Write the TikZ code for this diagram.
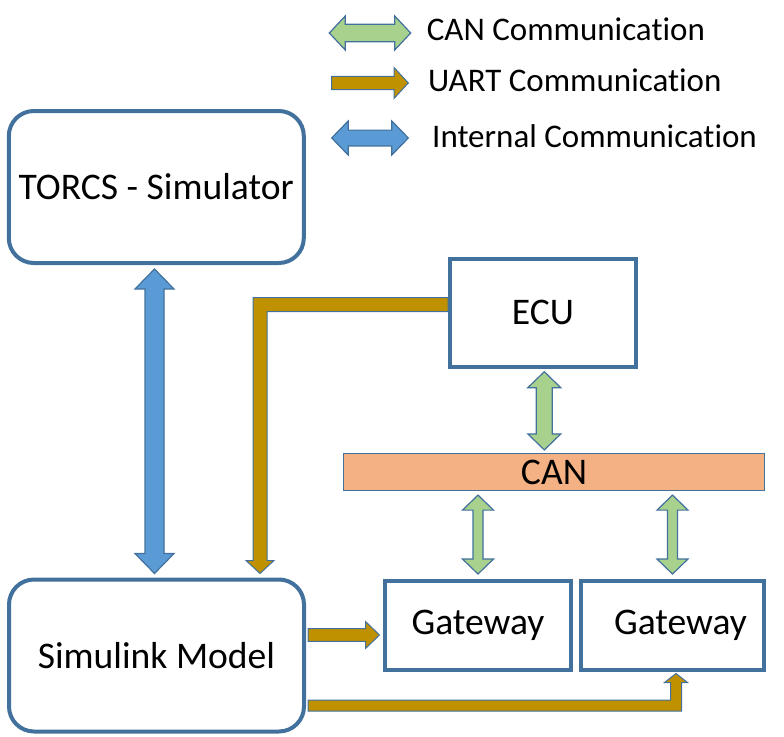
\documentclass[tikz,border=0pt]{standalone}
\usepackage{fontspec}
\setmainfont{Carlito}[Ligatures=NoCommon]
\usepackage{tikz}
\usetikzlibrary{calc}
\definecolor{boxline}{HTML}{41719C}
\definecolor{intblue}{HTML}{5B9BD5}
\definecolor{cangreen}{HTML}{A9D18E}
\definecolor{uartgold}{HTML}{BF9000}
\definecolor{canorange}{HTML}{F4B183}
% vertical double block arrow: style, top tip, bottom tip, shaft half, head half, head length
\newcommand{\dblarrowv}[6]{%
  \draw[#1] (#2) -- ($(#2)+(#5,#6)$) -- ($(#2)+(#4,#6)$) -- ($(#3)+(#4,-#6)$) -- ($(#3)+(#5,-#6)$) -- (#3)
    -- ($(#3)+(-#5,-#6)$) -- ($(#3)+(-#4,-#6)$) -- ($(#2)+(-#4,#6)$) -- ($(#2)+(-#5,#6)$) -- cycle;}
% horizontal double block arrow: style, left tip, right tip, shaft half, head half, head length
\newcommand{\dblarrowh}[6]{%
  \draw[#1] (#2) -- ($(#2)+(#6,-#5)$) -- ($(#2)+(#6,-#4)$) -- ($(#3)+(-#6,-#4)$) -- ($(#3)+(-#6,-#5)$) -- (#3)
    -- ($(#3)+(-#6,#5)$) -- ($(#3)+(-#6,#4)$) -- ($(#2)+(#6,#4)$) -- ($(#2)+(#6,#5)$) -- cycle;}

\begin{document}
\begin{tikzpicture}[x=1pt,y=-1pt,
    block/.style={draw=boxline,line width=4pt,fill=white,inner sep=0pt,font=\fontsize{37.6}{44}\selectfont},
    roundblock/.style={block,rounded corners=25pt,minimum width=295pt,minimum height=152pt},
    legend/.style={inner sep=0pt,anchor=base west,font=\fontsize{33}{40}\selectfont},
    canarrow/.style={draw=boxline,line width=1.2pt,fill=cangreen},
    intarrow/.style={draw=boxline,line width=1.2pt,fill=intblue},
    uartarrow/.style={draw=boxline,line width=1pt,fill=uartgold}]
  \useasboundingbox (0,0) rectangle (784,736);

  \node[roundblock] (tors) at (156.3,187) {TORCS - Simulator};
  \node[roundblock] (sim) at (156.5,655.5) {Simulink Model};
  \node[block,minimum width=186pt,minimum height=108pt] (ecu) at (543,312.7) {ECU};
  \node[block,line width=1.2pt,fill=canorange,minimum width=421pt,minimum height=37pt] (can) at (554,472) {CAN};
  \node[block,minimum width=186pt,minimum height=89pt] (gw1) at (478,625.5) {Gateway};
  \node[block,minimum width=183pt,minimum height=89pt] (gw2) at (672.5,625.5) {\hspace*{16pt}Gateway};

  \coordinate (it) at ($(tors.south)+(-1.8,4)$);
  \coordinate (ib) at ($(sim.north)+(-2,-4)$);
  \dblarrowv{intarrow}{it}{ib}{9.5}{19.5}{20}

  \coordinate (et) at ($(ecu.south)+(1.3,3)$);
  \coordinate (eb) at ($(et |- can.north)+(0,-3)$);
  \dblarrowv{canarrow}{et}{eb}{8}{16.5}{16}
  \coordinate (g1t) at ($(gw1.north |- can.south)+(0,4)$);
  \coordinate (g1b) at ($(gw1.north)+(0,-5)$);
  \dblarrowv{canarrow}{g1t}{g1b}{5}{15.5}{15}
  \coordinate (g2t) at ($(gw2.north |- can.south)+(0,4)$);
  \coordinate (g2b) at ($(gw2.north)+(0,-5)$);
  \dblarrowv{canarrow}{g2t}{g2b}{5}{15.5}{15}

  \coordinate (ue) at ($(ecu.west)+(0,-8.2)$);
  \coordinate (ut) at ($(sim.north)+(103.5,-4)$);
  \coordinate (uc) at (ut |- ue);
  \draw[uartarrow] ($(ue)+(0,-7)$) -- ($(uc)+(-7,-7)$) -- ($(ut)+(-7,-13)$) -- ($(ut)+(-14,-13)$) -- (ut)
    -- ($(ut)+(14,-13)$) -- ($(ut)+(7,-13)$) -- ($(uc)+(7,7)$) -- ($(ue)+(0,7)$) -- cycle;

  \coordinate (s1) at ($(sim.east)+(2,-20.5)$);
  \coordinate (g1) at ($(gw1.west |- s1)+(-3.5,0)$);
  \draw[uartarrow] ($(s1)+(0,-6.3)$) -- ($(g1)+(-14,-6.3)$) -- ($(g1)+(-14,-13.5)$) -- (g1)
    -- ($(g1)+(-14,13.5)$) -- ($(g1)+(-14,6.3)$) -- ($(s1)+(0,6.3)$) -- cycle;

  \coordinate (s2) at ($(sim.east)+(2,50.2)$);
  \coordinate (t2) at ($(gw2.south)+(3.5,1.5)$);
  \coordinate (c2) at (t2 |- s2);
  \draw[uartarrow] ($(s2)+(0,-5.5)$) -- ($(c2)+(-5.5,-5.5)$) -- ($(t2)+(-5.5,9)$) -- ($(t2)+(-11.5,9)$) -- (t2)
    -- ($(t2)+(11.5,9)$) -- ($(t2)+(5.5,9)$) -- ($(c2)+(5.5,5.5)$) -- ($(s2)+(0,5.5)$) -- cycle;

  \coordinate (lc1) at (329.3,33);
  \coordinate (lc2) at (410.7,33);
  \dblarrowh{canarrow}{lc1}{lc2}{8.8}{17}{16}
  \coordinate (lu1) at (331.7,83);
  \coordinate (lu2) at (408.3,83);
  \draw[uartarrow] ($(lu1)+(0,-6.6)$) -- ($(lu2)+(-14.3,-6.6)$) -- ($(lu2)+(-14.3,-15.5)$) -- (lu2)
    -- ($(lu2)+(-14.3,15.5)$) -- ($(lu2)+(-14.3,6.6)$) -- ($(lu1)+(0,6.6)$) -- cycle;
  \coordinate (li1) at (331.7,138);
  \coordinate (li2) at (408.3,138);
  \dblarrowh{intarrow}{li1}{li2}{7.9}{17}{16.5}

  \node[legend] (lcan) at (426.7,40.7) {CAN Communication};
  \node[legend] (luart) at (428,91.7) {UART Communication};
  \node[legend] (lint) at (432,147.7) {Internal Communication};
\end{tikzpicture}
\end{document}
